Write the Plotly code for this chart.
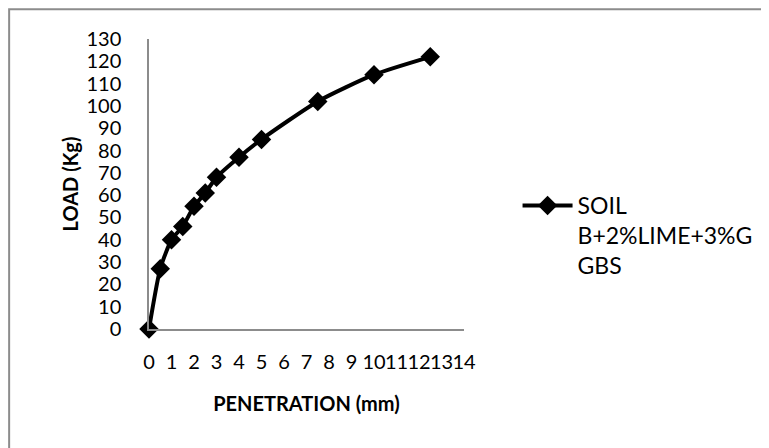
import plotly.graph_objects as go

penetration = [0, 0.5, 1, 1.5, 2, 2.5, 3, 4, 5, 7.5, 10, 12.5]
load = [0, 27, 40, 46, 55, 61, 68, 77, 85, 102, 114, 122]
series_name = "SOIL<br>B+2%LIME+3%G<br>GBS"
x_ticks = list(range(0, 15))
y_ticks = list(range(0, 131, 10))

FONT = "Lato, Carlito, Calibri, sans-serif"

fig = go.Figure()
fig.add_trace(go.Scatter(
    x=penetration, y=load, name=series_name, mode="lines+markers",
    line=dict(color="black", width=4, shape="spline", smoothing=0.6),
    marker=dict(symbol="diamond", size=15, color="black"),
    cliponaxis=False,
))

fig.update_layout(
    width=761, height=440,
    margin=dict(l=141, r=305, t=31, b=119, autoexpand=False),
    paper_bgcolor="white", plot_bgcolor="white",
    showlegend=True,
    legend=dict(x=1.17, xanchor="left", y=0.5, yanchor="top", valign="top",
                font=dict(family=FONT, size=23, color="black"),
                bgcolor="rgba(0,0,0,0)", itemwidth=50),
    font=dict(family=FONT, color="black"),
    shapes=[dict(type="rect", xref="paper", yref="paper",
                 x0=-0.444, x1=2.2, y0=-0.6, y1=1.103,
                 line=dict(color="#8c8c8c", width=2), layer="below")],
)
fig.update_xaxes(
    range=[0, 14], tickvals=x_ticks, ticktext=[str(v) for v in x_ticks],
    showgrid=False, zeroline=False, showline=True, linecolor="#8c8c8c", linewidth=1.5,
    ticks="outside", ticklen=14, tickcolor="rgba(0,0,0,0)", tickangle=0, automargin=False,
    tickfont=dict(family=FONT, size=20, color="black"),
    title=dict(text="<b>PENETRATION (mm)</b>", font=dict(family=FONT, size=20, color="black"), standoff=25),
)
fig.update_yaxes(
    range=[0, 130], tickvals=y_ticks, ticktext=[str(v) for v in y_ticks],
    showgrid=False, zeroline=False, showline=True, linecolor="#8c8c8c", linewidth=1.5,
    ticks="outside", ticklen=22, tickcolor="rgba(0,0,0,0)", automargin=False,
    tickfont=dict(family=FONT, size=20, color="black"),
    title=dict(text="<b>LOAD (Kg)</b>", font=dict(family=FONT, size=20, color="black"), standoff=2),
)

fig.write_html("out.html")
